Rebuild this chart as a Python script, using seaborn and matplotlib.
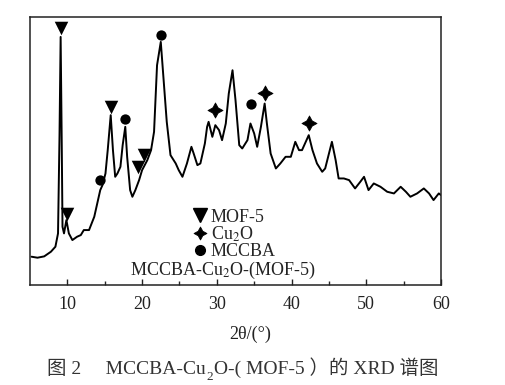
import numpy as np
import pandas as pd
import matplotlib
matplotlib.use("Agg")
import matplotlib.pyplot as plt
import seaborn as sns
from matplotlib.lines import Line2D

# ---------------------------------------------------------------------------
# Data (2theta in degrees, intensity in a.u.)
# ---------------------------------------------------------------------------
two_theta = [
    5.2, 6.0, 6.9, 7.8, 8.4, 8.75, 8.95, 9.1, 9.25, 9.35, 9.55, 9.87, 10.2,
    10.67, 11.3, 11.8, 12.2, 12.9, 13.6, 14.0, 14.4, 14.7, 15.1, 15.4, 15.8,
    16.1, 16.4, 16.7, 17.1, 17.4, 17.75, 18.0, 18.4, 18.7, 19.1, 19.6, 20.0,
    20.7, 21.2, 21.6, 22.0, 22.5, 22.9, 23.3, 23.8, 24.5, 24.9, 25.4, 26.0,
    26.6, 26.9, 27.4, 27.8, 28.4, 28.7, 28.9, 29.4, 29.8, 30.3, 30.7, 31.2,
    31.6, 32.1, 32.5, 33.0, 33.4, 34.1, 34.5, 35.0, 35.4, 35.9, 36.4, 36.7,
    37.2, 37.9, 38.5, 39.2, 39.9, 40.5, 41.0, 41.4, 42.3, 42.8, 43.4, 44.1,
    44.5, 45.4, 45.9, 46.3, 47.0, 47.7, 48.5, 49.2, 49.7, 50.3, 51.0, 51.9,
    52.8, 53.7, 54.6, 55.3, 55.9, 56.8, 57.7, 58.4, 59.0, 59.7, 60.0,
]
intensity = [
    85, 82, 86, 100, 115, 155, 450, 745, 420, 175, 155, 195, 155,
    135, 145, 150, 165, 165, 205, 245, 285, 300, 335, 405, 510,
    405, 325, 335, 355, 420, 475, 385, 285, 265, 285, 315, 345,
    375, 405, 460, 660, 730, 610, 490, 390, 365, 345, 325, 365,
    415, 395, 360, 365, 425, 475, 490, 445, 480, 465, 435, 485,
    575, 645, 555, 420, 410, 435, 485, 455, 415, 475, 545, 485,
    395, 350, 365, 385, 385, 430, 405, 405, 450, 405, 365, 340,
    350, 430, 375, 320, 320, 315, 290, 310, 325, 285, 305, 295,
    280, 275, 295, 280, 265, 275, 290, 275, 255, 275, 270,
]

# peak assignments: (2theta, marker height)
mof5_x = [9.1, 9.9, 15.8, 19.5, 20.3]
mof5_y = [771, 213, 535, 355, 390]
cu2o_x = [29.8, 36.5, 42.3]
cu2o_y = [525, 577, 488]
mccba_x = [14.4, 17.75, 22.55, 34.6]
mccba_y = [315, 500, 752, 543]

x_ticks = [10, 20, 30, 40, 50, 60]

# ---------------------------------------------------------------------------
# Figure
# ---------------------------------------------------------------------------
sns.set_style("ticks")
plt.rcParams["font.family"] = ["Liberation Serif", "Noto Sans CJK SC"]
plt.rcParams["mathtext.fontset"] = "stix"

fig = plt.figure(figsize=(5.05, 3.85), dpi=100)
ax = fig.add_axes([0.0594, 0.2597, 0.8139, 0.6963])

df = pd.DataFrame({"two_theta": two_theta, "intensity": intensity})
sns.lineplot(data=df, x="two_theta", y="intensity", color="black",
             lw=1.4, ax=ax, zorder=2)

sns.scatterplot(x=mof5_x, y=mof5_y, marker="v", s=95, color="black",
                edgecolor="black", linewidth=0, ax=ax, zorder=3)
sns.scatterplot(x=cu2o_x, y=cu2o_y, marker=(4, 1, 0), s=120, color="black",
                edgecolor="black", linewidth=0.5, ax=ax, zorder=3)
sns.scatterplot(x=mccba_x, y=mccba_y, marker="o", s=55, color="black",
                edgecolor="black", linewidth=0, ax=ax, zorder=3)

ax.set_xlim(5, 60)
ax.set_ylim(0, 805)
ax.set_xticks(x_ticks)
ax.set_xticks([15, 25, 35, 45, 55], minor=True)
ax.set_yticks([])
ax.tick_params(axis="x", which="major", direction="in", length=4, width=1,
               labelsize=13, pad=8, colors="#222222")
ax.tick_params(axis="x", which="minor", direction="in", length=3, width=1)
for sp in ax.spines.values():
    sp.set_linewidth(1.1)
    sp.set_color("#222222")
ax.set_xlabel("2θ/(°)", fontsize=13, color="#222222")
ax.xaxis.set_label_coords(0.535, -0.15)
ax.set_ylabel("")

handles = [
    Line2D([], [], ls="none", marker="v", color="black", ms=9.5),
    Line2D([], [], ls="none", marker=(4, 1, 0), color="black", ms=9.5, mew=0.5),
    Line2D([], [], ls="none", marker="o", color="black", ms=7),
]
ax.legend(handles, ["MOF-5", "Cu$_2$O", "MCCBA"], loc="upper left",
          bbox_to_anchor=(0.4, 0.285), frameon=False, fontsize=13,
          handlelength=0.6, handletextpad=0.3, labelspacing=-0.05,
          borderpad=0, borderaxespad=0)

ax.text(0.47, 0.055, "MCCBA-Cu$_2$O-(MOF-5)", transform=ax.transAxes,
        ha="center", va="center", fontsize=13, color="#222222")

# caption, in pieces so that the CJK fallback works next to the subscript
cap_col = "#333333"
cap_fs = 14
base = 0.028
renderer = fig.canvas.get_renderer()
W = fig.bbox.width
t1 = fig.text(0.093, base, "图 2　 MCCBA-Cu", ha="left", va="baseline",
              fontsize=cap_fs, color=cap_col)
x2 = t1.get_window_extent(renderer).x1 / W
t2 = fig.text(x2 + 0.002, base - 0.015, "2", ha="left", va="baseline",
              fontsize=9.5, color=cap_col)
x3 = t2.get_window_extent(renderer).x1 / W
fig.text(x3 + 0.002, base, "O-( MOF-5 ）的 XRD 谱图", ha="left", va="baseline",
         fontsize=cap_fs, color=cap_col)

fig.savefig("out.png", dpi=100)
plt.close(fig)
